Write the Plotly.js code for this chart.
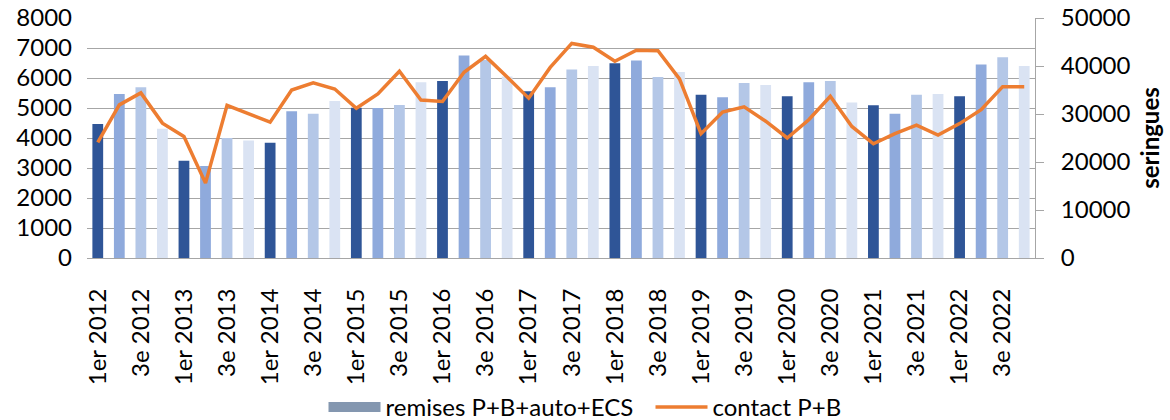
<!DOCTYPE html>
<html>
<head>
<meta charset="utf-8">
<script src="https://cdn.plot.ly/plotly-3.0.1.min.js"></script>
<style>html,body{margin:0;padding:0;background:#fff;}#chart{width:1170px;height:420px;}</style>
</head>
<body>
<div id="chart"></div>
<script>
const years = [2012,2013,2014,2015,2016,2017,2018,2019,2020,2021,2022];
const quarterNames = ["1er","2e","3e","4e"];
const categories = [];
years.forEach(y => quarterNames.forEach(q => categories.push(q + " " + y)));

const remises = [
  4470,5470,5690,4310,
  3240,3070,4000,3920,
  3840,4890,4810,5230,
  5010,5000,5100,5860,
  5900,6750,6600,6050,
  5560,5690,6280,6400,
  6490,6580,6030,6200,
  5440,5360,5830,5770,
  5390,5860,5900,5180,
  5090,4810,5440,5470,
  5390,6450,6690,6400
];
const contact = [
  24100,31900,34400,28100,
  25300,15600,31800,30000,
  28300,35000,36500,35200,
  31200,34200,38900,32900,
  32600,38700,42000,37700,
  33300,39700,44700,43900,
  41000,43300,43200,37300,
  25900,30400,31500,28500,
  25000,28800,33700,27400,
  23800,25900,27700,25600,
  28000,30900,35700,35700
];
const quarterColors = ["#2F5597","#8FAADC","#B4C7E7","#DAE3F3"];
const barColors = categories.map((c,i) => quarterColors[i % 4]);
const tickVals = categories.filter((c,i) => i % 2 === 0);

const font = "Lato, 'Open Sans', sans-serif";

const traces = [
  {
    type: "bar", x: categories, y: remises, name: "remises P+B+auto+ECS",
    marker: {color: barColors}, showlegend: false, hoverinfo: "x+y"
  },
  {
    type: "scatter", mode: "lines", x: [categories[0]], y: [null],
    name: "remises P+B+auto+ECS\u00A0\u00A0", line: {color: "#8497B0", width: 16},
    showlegend: true, hoverinfo: "skip"
  },
  {
    type: "scatter", mode: "lines", x: categories, y: contact, name: "contact P+B",
    yaxis: "y2", line: {color: "#ED7D31", width: 3.5}
  }
];

const layout = {
  width: 1170, height: 420,
  margin: {l: 87, r: 135, t: 18, b: 162},
  paper_bgcolor: "#fff", plot_bgcolor: "#fff",
  font: {family: font, size: 24, color: "#000"},
  barmode: "overlay", bargap: 0.5,
  showlegend: true,
  legend: {
    orientation: "h", x: 0.5, xanchor: "center", xref: "container",
    y: 0.03, yref: "container", yanchor: "middle",
    font: {family: font, size: 24, color: "#000"},
    itemwidth: 52, traceorder: "normal", tracegroupgap: 0
  },
  xaxis: {
    type: "category", categoryorder: "array", categoryarray: categories,
    tickmode: "array", tickvals: tickVals, ticktext: tickVals,
    tickangle: -90, ticks: "", showgrid: false, ticklabelstandoff: 20,
    showline: true, linecolor: "#A6A6A6", linewidth: 1,
    tickfont: {family: font, size: 24, color: "#000"}, automargin: false
  },
  yaxis: {
    range: [0, 8000], dtick: 1000, showgrid: true, gridcolor: "#A6A6A6", gridwidth: 1,
    zeroline: false, showline: false, ticks: "", ticklabelstandoff: 14,
    tickfont: {family: font, size: 24, color: "#000"}, automargin: false
  },
  yaxis2: {
    overlaying: "y", side: "right", range: [0, 50000], dtick: 10000, tickformat: "d",
    showgrid: false, zeroline: false, showline: true, linecolor: "#A6A6A6", linewidth: 1,
    ticks: "outside", ticklen: 8, tickcolor: "#A6A6A6", ticklabelstandoff: 12,
    tickfont: {family: font, size: 24, color: "#000"},
    title: {text: "seringues", font: {family: font, size: 24, color: "#000", weight: "bold"}, standoff: 12},
    automargin: false
  }
};

Plotly.newPlot("chart", traces, layout, {staticPlot: true, displayModeBar: false});
</script>
</body>
</html>
